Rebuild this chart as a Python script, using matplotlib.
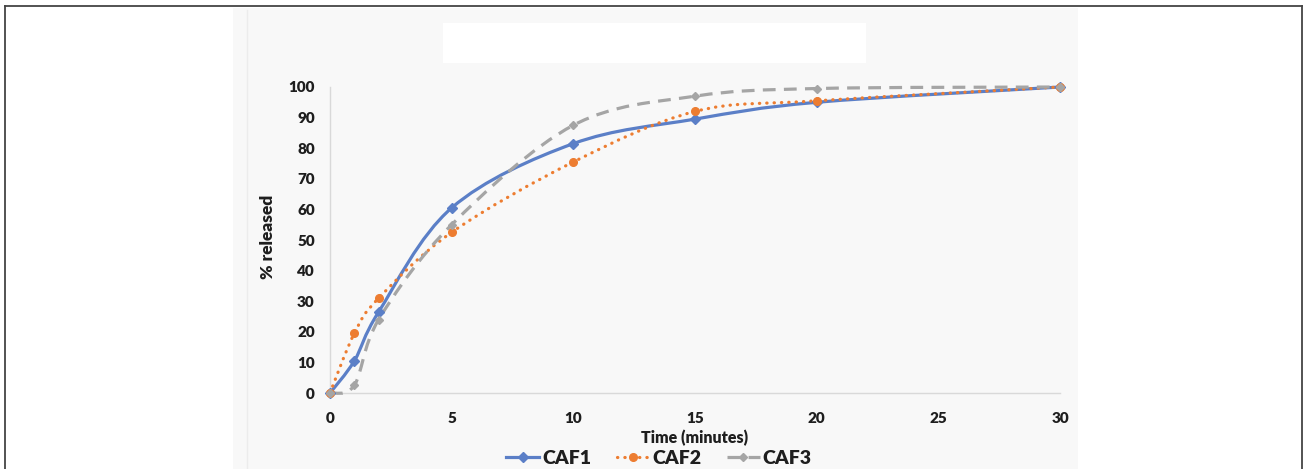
import numpy as np
import matplotlib
matplotlib.use("Agg")
import matplotlib.pyplot as plt
from matplotlib.path import Path
from matplotlib.patches import PathPatch, Rectangle
from matplotlib.lines import Line2D

# data
TIME = [0, 1, 2, 5, 10, 15, 20, 30]
CAF1 = [0, 10.5, 26.5, 60.5, 81.5, 89.5, 95, 100]
CAF2 = [0, 19.5, 31, 52.5, 75.5, 92, 95.5, 100]
CAF3 = [0, 2.5, 24, 55, 87.5, 97, 99.5, 100]
SERIES_NAMES = ["CAF1", "CAF2", "CAF3"]
X_TICKS = [0, 5, 10, 15, 20, 25, 30]
Y_TICKS = list(range(0, 101, 10))

W, H = 1306, 469
FONT = ["Lato", "DejaVu Sans"]
TXT = "#1e1e1e"
BG = "#f8f8f8"
WEIGHT = "heavy"

plt.rcParams.update({
    "font.family": FONT,
    "font.weight": "bold",
})


def frac_rect(x0, y0, x1, y1):
    """pixel box (top-left origin) -> figure fraction rect"""
    return (x0 / W, 1 - y1 / H, (x1 - x0) / W, (y1 - y0) / H)


def smooth_path(x, y):
    """Excel style smoothed line: cubic bezier through the points."""
    pts = np.column_stack([x, y]).astype(float)
    n = len(pts)
    verts = [pts[0]]
    codes = [Path.MOVETO]
    for i in range(n - 1):
        p0 = pts[max(i - 1, 0)]
        p1 = pts[i]
        p2 = pts[i + 1]
        p3 = pts[min(i + 2, n - 1)]
        verts += [p1 + (p2 - p0) / 6, p2 - (p3 - p1) / 6, p2]
        codes += [Path.CURVE4] * 3
    return Path(verts, codes)


fig = plt.figure(figsize=(W / 100, H / 100), dpi=100)

# outer frame (open at bottom)
frame = dict(color="#444444", lw=1.3, transform=fig.transFigure)
fig.add_artist(Line2D([5 / W, 1302 / W], [1 - 6 / H, 1 - 6 / H], **frame))
fig.add_artist(Line2D([5 / W, 5 / W], [1 - 6 / H, 0], **frame))
fig.add_artist(Line2D([1302 / W, 1302 / W], [1 - 6 / H, 0], **frame))

# chart area + blank title box
r = frac_rect(233, 8, 1078, 469)
fig.add_artist(Rectangle(r[:2], *r[2:], transform=fig.transFigure,
                         facecolor=BG, edgecolor="none", zorder=0))
fig.add_artist(Line2D([247 / W, 247 / W], [1 - 10 / H, 0],
                      color="#ececec", lw=1, transform=fig.transFigure, zorder=0.5))
r = frac_rect(443, 23, 866, 63)
fig.add_artist(Rectangle(r[:2], *r[2:], transform=fig.transFigure,
                         facecolor="white", edgecolor="none", zorder=0.6))

ax = fig.add_axes(frac_rect(330, 87, 1060, 393))
ax.set_facecolor("none")

styles = [
    dict(color="#5b7fc7", ls="-", marker="D", ms=5, cap="round"),
    dict(color="#ed7d31", ls=(0, (0.1, 2.2)), marker="o", ms=5.5, cap="round"),
    dict(color="#a5a5a5", ls=(0, (4, 2.6)), marker="D", ms=4.5, cap="butt"),
]

handles = []
for yv, name, st in zip([CAF1, CAF2, CAF3], SERIES_NAMES, styles):
    patch = PathPatch(smooth_path(TIME, yv), fill=False, edgecolor=st["color"],
                      lw=2.3, linestyle=st["ls"], capstyle=st["cap"],
                      clip_on=False, zorder=3)
    ax.add_patch(patch)
    ax.plot(TIME, yv, linestyle="none", marker=st["marker"], ms=st["ms"],
            color=st["color"], mec=st["color"], clip_on=False, zorder=4)
    h = Line2D([], [], color=st["color"], lw=2.3, linestyle=st["ls"],
               marker=st["marker"], ms=st["ms"], dash_capstyle=st["cap"])
    handles.append(h)

ax.set_xlim(0, 30)
ax.set_ylim(0, 100)
ax.set_xticks(X_TICKS)
ax.set_yticks(Y_TICKS)
ax.tick_params(length=0, labelsize=11, labelcolor=TXT)
ax.tick_params(axis="y", pad=11)
ax.tick_params(axis="x", pad=14)
for lab in ax.get_xticklabels() + ax.get_yticklabels():
    lab.set_fontweight(WEIGHT)

for s in ("top", "right"):
    ax.spines[s].set_visible(False)
for s in ("left", "bottom"):
    ax.spines[s].set_color("#d9d9d9")
    ax.spines[s].set_linewidth(1.0)

ax.set_xlabel("Time (minutes)", fontsize=11.5, fontweight=WEIGHT, color=TXT)
ax.xaxis.set_label_coords(0.5, -(438 - 393) / 306)
ax.xaxis.label.set_va("center")
ax.set_ylabel("% released", fontsize=12.5, fontweight=WEIGHT, color=TXT)
ax.yaxis.set_label_coords((268 - 330) / 730, (393 - 237) / 306)
ax.yaxis.label.set_va("center")

leg = fig.legend(handles, SERIES_NAMES, loc="center", ncol=3,
                 bbox_to_anchor=(659 / W, 1 - 458 / H), frameon=False,
                 handlelength=1.7, handletextpad=0.15, columnspacing=1.3,
                 prop={"family": FONT, "weight": WEIGHT, "size": 14})
for t in leg.get_texts():
    t.set_color(TXT)

fig.savefig("out.png", dpi=100, facecolor="white")
